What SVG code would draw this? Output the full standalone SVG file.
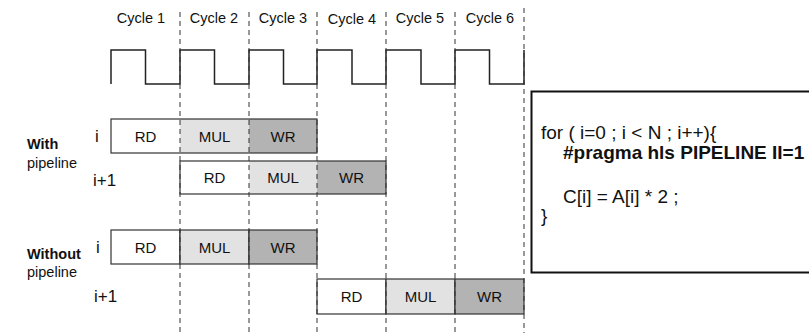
<svg xmlns="http://www.w3.org/2000/svg" width="809" height="333" viewBox="0 0 809 333">
<style>
text{font-family:"Liberation Sans",Arial,sans-serif;fill:#111}
.cyc{font-size:14.5px;text-anchor:middle}
.lbl{font-size:14.5px}
.b{font-weight:bold}
.idx{font-size:17px}
.cell{font-size:15px;text-anchor:middle}
.code{font-size:19px}
.guide{stroke:#333;stroke-width:1;stroke-dasharray:5 4;fill:none}
.clk{stroke:#222;stroke-width:1.5;fill:none}
.box{fill:none;stroke:#333;stroke-width:1.2}
.w{fill:#fff}
.m{fill:#e2e2e2}
.r{fill:#b3b3b3}
.cd{stroke:#333;stroke-width:1.2}
</style>
<rect width="809" height="333" fill="#fff"/>
<g id="cycle-labels">
<text class="cyc" x="141" y="23">Cycle 1</text>
<text class="cyc" x="214" y="23">Cycle 2</text>
<text class="cyc" x="283" y="23">Cycle 3</text>
<text class="cyc" x="352" y="24">Cycle 4</text>
<text class="cyc" x="420" y="23">Cycle 5</text>
<text class="cyc" x="490" y="23">Cycle 6</text>
</g>
<g id="clock">
<path class="clk" d="M111,84 V50 H145.5 V84 H180 V50 H214.5 V84 H249 V50 H283.5 V84 H317 V50 H352 V84 H386 V50 H421 V84 H455 V50 H489.5 V84 H524 V50"/>
</g>
<g id="row-labels">
<text class="lbl b" x="27" y="149">With</text>
<text class="lbl" x="27" y="168">pipeline</text>
<text class="lbl b" x="27" y="259">Without</text>
<text class="lbl" x="27" y="277">pipeline</text>
<text class="idx" x="95" y="142">i</text>
<text class="idx" x="93" y="186">i+1</text>
<text class="idx" x="96" y="253">i</text>
<text class="idx" x="94" y="302">i+1</text>
</g>
<g id="with-i">
<rect class="w" x="111" y="119" width="69" height="34"/>
<rect class="m" x="180" y="119" width="69" height="34"/>
<rect class="r" x="249" y="119" width="68" height="34"/>
<rect class="box" x="111" y="119" width="206" height="34"/>
<text class="cell" x="145.5" y="141.5">RD</text>
<text class="cell" x="214.5" y="141.5">MUL</text>
<text class="cell" x="283" y="141.5">WR</text>
</g>
<g id="with-i1">
<rect class="w" x="180" y="161" width="69" height="33"/>
<rect class="m" x="249" y="161" width="68" height="33"/>
<rect class="r" x="317" y="161" width="69" height="33"/>
<rect class="box" x="180" y="161" width="206" height="33"/>
<text class="cell" x="214.5" y="183">RD</text>
<text class="cell" x="283" y="183">MUL</text>
<text class="cell" x="351.5" y="183">WR</text>
</g>
<g id="without-i">
<rect class="w cd" x="111" y="230" width="69" height="34"/>
<rect class="m cd" x="180" y="230" width="69" height="34"/>
<rect class="r cd" x="249" y="230" width="68" height="34"/>
<text class="cell" x="145.5" y="252.5">RD</text>
<text class="cell" x="214.5" y="252.5">MUL</text>
<text class="cell" x="283" y="252.5">WR</text>
</g>
<g id="without-i1">
<rect class="w cd" x="317" y="279" width="69" height="35"/>
<rect class="m cd" x="386" y="279" width="69" height="35"/>
<rect class="r cd" x="455" y="279" width="69" height="35"/>
<text class="cell" x="351.5" y="302">RD</text>
<text class="cell" x="420.5" y="302">MUL</text>
<text class="cell" x="489.5" y="302">WR</text>
</g>
<g id="guides">
<line class="guide" x1="180" y1="12" x2="180" y2="333"/>
<line class="guide" x1="249" y1="12" x2="249" y2="333"/>
<line class="guide" x1="317" y1="12" x2="317" y2="333"/>
<line class="guide" x1="386" y1="12" x2="386" y2="333"/>
<line class="guide" x1="455" y1="12" x2="455" y2="333"/>
<line class="guide" x1="524" y1="8" x2="524" y2="333"/>
</g>
<g id="code">
<rect x="531.5" y="91.5" width="290" height="181" fill="none" stroke="#111" stroke-width="2"/>
<text class="code" x="541" y="139">for ( i=0 ; i &lt; N ; i++){</text>
<text class="code b" x="563" y="159">#pragma hls PIPELINE II=1</text>
<text class="code" x="563" y="203">C[i] = A[i] * 2 ;</text>
<text class="code" x="541" y="222">}</text>
</g>
</svg>
